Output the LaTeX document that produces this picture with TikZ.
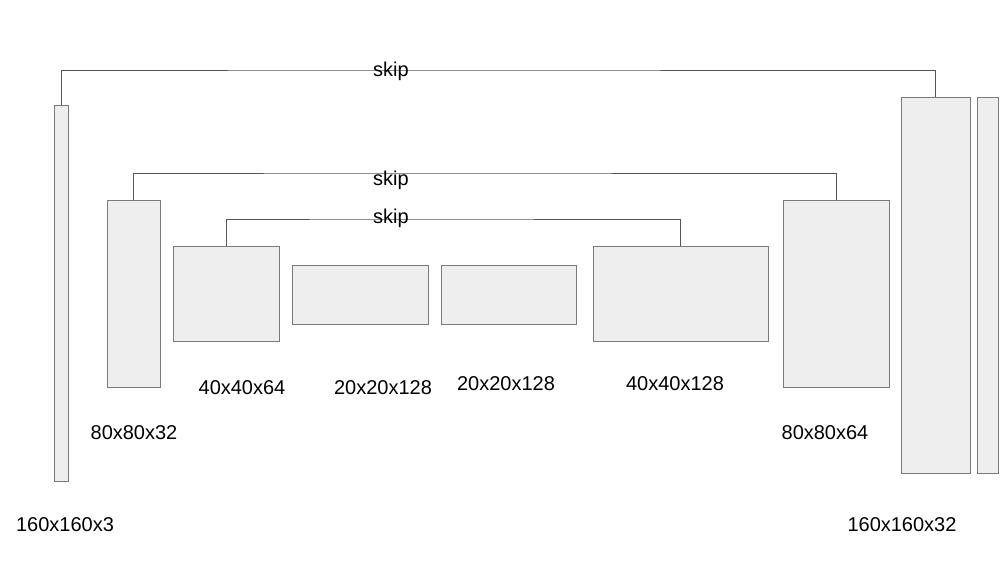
\documentclass[tikz,border=0pt]{standalone}
\usepackage{fontspec}
\setmainfont{Liberation Sans}
\definecolor{boxfill}{HTML}{EEEEEE}
\definecolor{boxline}{HTML}{7A7A7A}
\definecolor{skipline}{HTML}{555555}
\begin{document}
\begin{tikzpicture}[x=1pt,y=-1pt,
  blk/.style={draw=boxline, fill=boxfill, line width=0.9pt, inner sep=0pt, outer sep=0pt},
  lbl/.style={font=\fontsize{20}{23}\selectfont, inner sep=0pt, text=black},
  skipconn/.style={draw=skipline, line width=1pt}]
\useasboundingbox (0,0) rectangle (1005,562);
% blocks
\node[blk, minimum width=14pt, minimum height=376pt] (in) at (61,293) {};
\node[blk, minimum width=53pt, minimum height=187pt] (e1) at (133.5,293.5) {};
\node[blk, minimum width=106pt, minimum height=95pt] (e2) at (226,293.5) {};
\node[blk, minimum width=136pt, minimum height=59pt] (e3) at (360,294.5) {};
\node[blk, minimum width=135pt, minimum height=59pt] (d3) at (508.5,294.5) {};
\node[blk, minimum width=175pt, minimum height=95pt] (d2) at (680.5,293.5) {};
\node[blk, minimum width=106pt, minimum height=187pt] (d1) at (836,293.5) {};
\node[blk, minimum width=69pt, minimum height=376pt] (out) at (935.5,285) {};
\node[blk, minimum width=21pt, minimum height=376pt] (head) at (987.5,285) {};
% skip connections
\coordinate (s1) at (391,70);
\coordinate (s2) at (391,173);
\coordinate (s3) at (391,219);
\draw[skipconn] (in.north) |- (s1) -| (out.north);
\draw[skipconn] (e1.north) |- (s2) -| (d1.north);
\draw[skipconn] (e2.north) |- (s3) -| (d2.north);
\node[lbl] (k1) at (391,71) {skip};
\node[lbl] (k2) at (391,180) {skip};
\node[lbl] (k3) at (391,218) {skip};
% labels
\node[lbl] (t0) at (65,525) {160x160x3};
\node[lbl] (t1) at (134,433) {80x80x32};
\node[lbl] (t2) at (242,388) {40x40x64};
\node[lbl] (t3) at (383,388) {20x20x128};
\node[lbl] (t4) at (506,384) {20x20x128};
\node[lbl] (t5) at (675,384) {40x40x128};
\node[lbl] (t6) at (825,433) {80x80x64};
\node[lbl] (t7) at (902,525) {160x160x32};
\end{tikzpicture}
\end{document}
